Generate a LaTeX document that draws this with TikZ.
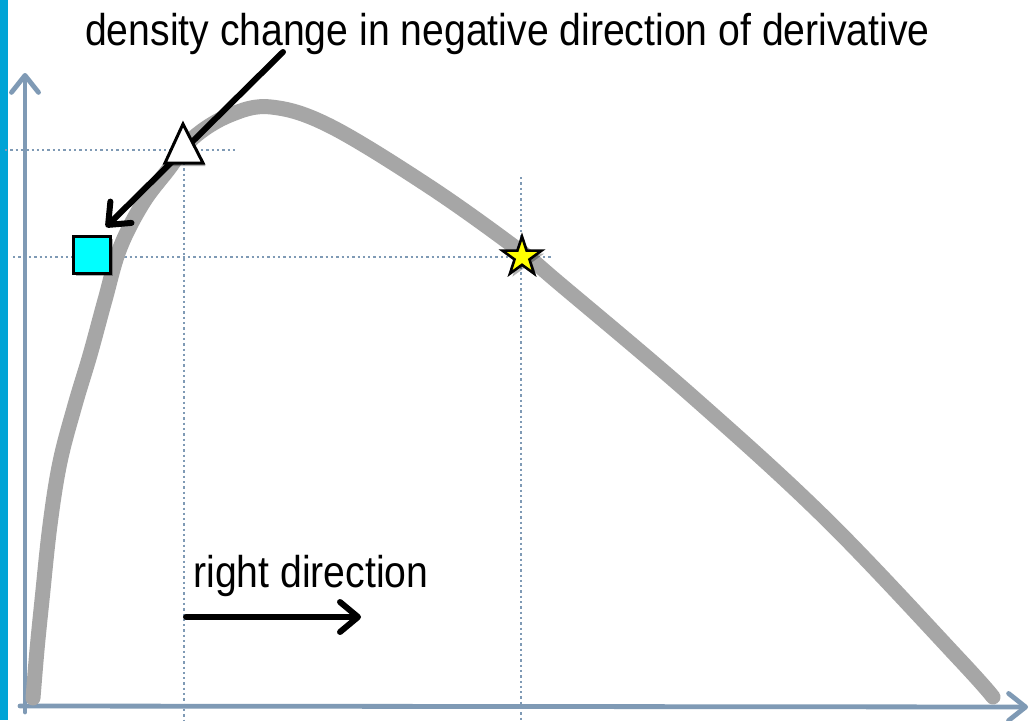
\documentclass[tikz,border=0pt]{standalone}
\usepackage{fontspec}
\setmainfont[FakeStretch=0.88]{Liberation Sans}
\usetikzlibrary{arrows.meta,shapes.geometric,shadows}
\definecolor{barblue}{RGB}{0,164,214}
\definecolor{axisc}{RGB}{127,154,181}
\definecolor{curvec}{RGB}{166,166,166}
\definecolor{sqcyan}{RGB}{0,255,255}
\definecolor{staryel}{RGB}{255,255,0}
\tikzset{
  axisline/.style={draw=axisc, line width=4.8pt, line cap=round,
    -{Straight Barb[length=17pt,width=27pt,line width=4.8pt,round]}},
  guide/.style={draw=axisc, line width=2.4pt, dash pattern=on 2.3pt off 3pt},
  curveline/.style={draw=curvec, line width=15pt, line cap=round, line join=round},
  blackarrow/.style={draw=black, line width=6pt, line cap=round,
    -{Straight Barb[length=18pt,width=30pt,line width=6pt,round]}},
  shad/.style={drop shadow={shadow xshift=2.5pt, shadow yshift=-3pt, opacity=0.3, fill=black}},
  label/.style={font=\fontsize{44.5}{50}\selectfont, inner sep=0pt, anchor=base},
  marker/.style={draw=black, line width=3pt, inner sep=0pt, shad}
}
\begin{document}
\begin{tikzpicture}[x=1pt,y=-1pt]
\useasboundingbox (0,0) rectangle (1030,720);
\fill[white] (0,0) rectangle (1030,720);
\fill[barblue] (0,0) rectangle (8,720);
% coordinates
\coordinate (orig) at (25,706);
\coordinate (ytop) at (25,73);
\coordinate (xend) at (1028,707);
% guide lines
\draw[guide] (5,150) -- (237,150);
\draw[guide] (184,163) -- (184,720);
\draw[guide] (13,257) -- (553,257);
\draw[guide] (521,177) -- (521,720);
% axes
\draw[axisline] (25,712) -- (ytop);
\draw[axisline] (20,706) -- (xend);
% curve
\draw[curveline] plot[smooth, tension=0.6] coordinates {
 (33,698) (37,650) (42,600) (50,525) (60,462) (75,405) (90,355) (105,300)
 (120,248) (143,203) (168,170) (193,138) (230,115) (271,107) (330,126)
 (430,187) (520,251) (560,284) (693,397)
 (827,520) (960,660) (993,697)};
% texts
\node[label] (title) at (507.5,45) {density change in negative direction of derivative};
\node[label] (right) at (311,587) {right direction};
% arrows
\coordinate (as) at (283,52);
\coordinate (ae) at (106,227);
\draw[blackarrow] (as) -- (ae);
\coordinate (rs) at (186,617);
\coordinate (re) at (361,617);
\draw[blackarrow] (rs) -- (re);
% markers
\node[marker, fill=sqcyan, minimum size=37pt] (sq) at (92,254.5) {};
\node[marker, fill=staryel, star, star points=5, star point ratio=2.618,
      minimum size=41pt, line width=2.6pt] (st) at (522,257) {};
\draw[draw=black, line width=3pt, fill=white, line join=miter, shad]
  (183,124) -- (203,163) -- (165,163) -- cycle;
\coordinate (tri) at (184,150);
\end{tikzpicture}
\end{document}
